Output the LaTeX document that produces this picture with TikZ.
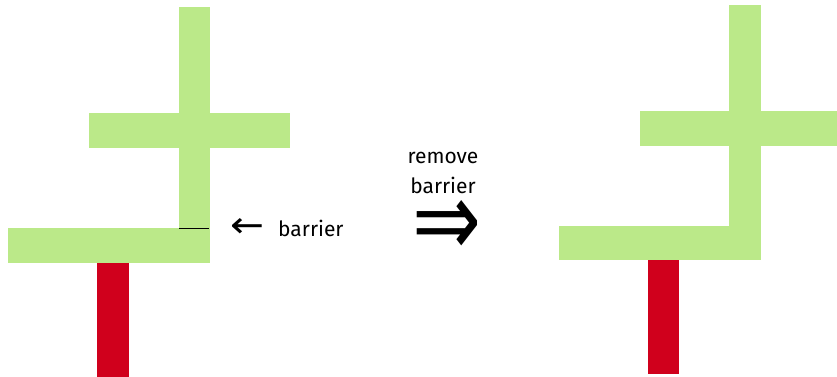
\documentclass[tikz,border=0pt]{standalone}
\usepackage{fontspec}
\setmainfont{Fira Sans}
\newfontfamily\symfont{DejaVu Sans}
\usepackage{graphicx}
\definecolor{lgreen}{RGB}{187,233,137}
\definecolor{dred}{RGB}{208,0,28}
\begin{document}
\begin{tikzpicture}[x=1pt,y=-1pt,
  gbar/.style={fill=lgreen,draw=none},
  rbar/.style={fill=dred,draw=none},
  lbl/.style={font=\fontsize{21}{26}\selectfont,inner sep=0pt,anchor=base}]
\useasboundingbox (0,0) rectangle (837,377);
% left figure
\fill[gbar] (178.5,7.5) rectangle (209.5,229);
\fill[gbar] (88.5,113.5) rectangle (290,148);
\fill[gbar] (7.5,228) rectangle (209.5,263);
\fill[rbar] (97,263) rectangle (128.5,377);
\draw[black,line width=1.2pt] (179,228.3) -- (209,228.3);
% labels
\node[inner sep=0pt] (larr) at (247.5,227.5) {\resizebox{34pt}{19pt}{\symfont ←}};
\node[lbl,anchor=base west] (bar) at (278,236) {barrier};
\node[lbl] (rm1) at (443,163) {remove};
\node[lbl] (rm2) at (443,193) {barrier};
\node[inner sep=0pt] (imp) at (446.7,228) {\resizebox{69pt}{56pt}{\symfont ⇒}};
% right figure
\fill[gbar] (729.3,5) rectangle (760.7,260);
\fill[gbar] (640,111) rectangle (837,145.7);
\fill[gbar] (558.7,225.7) rectangle (760.7,260);
\fill[rbar] (648,260) rectangle (679.3,374.3);
\end{tikzpicture}
\end{document}
